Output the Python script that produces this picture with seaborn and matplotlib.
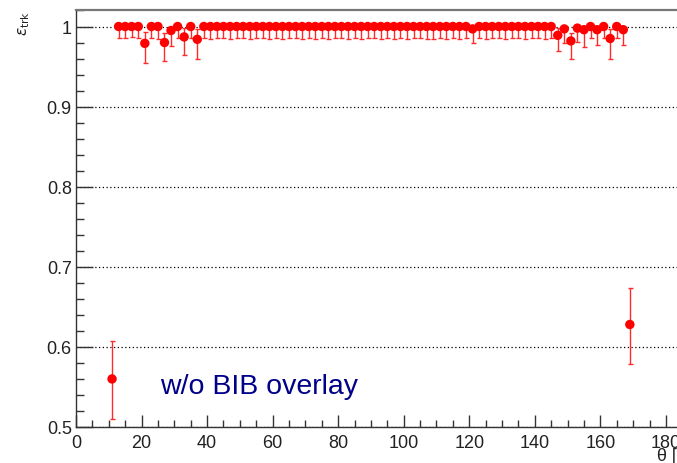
import numpy as np
import pandas as pd
import matplotlib
matplotlib.use("Agg")
import matplotlib.pyplot as plt
from matplotlib.ticker import MultipleLocator, FuncFormatter
import seaborn as sns

# polar angle bin centres [deg]
theta = [11, 13, 15, 17, 19, 21, 23, 25, 27, 29,
         31, 33, 35, 37, 39, 41, 43, 45, 47, 49,
         51, 53, 55, 57, 59, 61, 63, 65, 67, 69,
         71, 73, 75, 77, 79, 81, 83, 85, 87, 89,
         91, 93, 95, 97, 99, 101, 103, 105, 107, 109,
         111, 113, 115, 117, 119, 121, 123, 125, 127, 129,
         131, 133, 135, 137, 139, 141, 143, 145, 147, 149,
         151, 153, 155, 157, 159, 161, 163, 165, 167, 169]

# tracking efficiency
eff = [0.560, 1, 1, 1, 1, 0.979, 1, 1, 0.980, 0.995,
       1, 0.987, 1, 0.984, 1, 1, 1, 1, 1, 1,
       1, 1, 1, 1, 1, 1, 1, 1, 1, 1,
       1, 1, 1, 1, 1, 1, 1, 1, 1, 1,
       1, 1, 1, 1, 1, 1, 1, 1, 1, 1,
       1, 1, 1, 1, 1, 0.997, 1, 1, 1, 1,
       1, 1, 1, 1, 1, 1, 1, 1, 0.989, 0.997,
       0.982, 0.998, 0.996, 1, 0.996, 1, 0.985, 1, 0.996, 0.628]

# lower / upper edge of the error bars
eff_lo = [0.510, 0.986, 0.986, 0.987, 0.986, 0.955, 0.986, 0.985, 0.957, 0.976,
          0.986, 0.965, 0.986, 0.960, 0.986, 0.985, 0.986, 0.986, 0.985, 0.986,
          0.986, 0.985, 0.986, 0.986, 0.985, 0.986, 0.984, 0.986, 0.986, 0.985,
          0.986, 0.984, 0.986, 0.985, 0.986, 0.986, 0.985, 0.986, 0.984, 0.986,
          0.986, 0.985, 0.986, 0.984, 0.986, 0.985, 0.986, 0.986, 0.984, 0.985,
          0.986, 0.984, 0.986, 0.985, 0.986, 0.979, 0.986, 0.985, 0.986, 0.986,
          0.985, 0.986, 0.986, 0.985, 0.986, 0.986, 0.985, 0.986, 0.970, 0.980,
          0.960, 0.981, 0.975, 0.986, 0.977, 0.986, 0.959, 0.986, 0.977, 0.579]

eff_hi = [0.607, 1, 1, 1, 1, 0.993, 1, 1, 0.992, 1,
          1, 0.998, 1, 0.997, 1, 1, 1, 1, 1, 1,
          1, 1, 1, 1, 1, 1, 1, 1, 1, 1,
          1, 1, 1, 1, 1, 1, 1, 1, 1, 1,
          1, 1, 1, 1, 1, 1, 1, 1, 1, 1,
          1, 1, 1, 1, 1, 1, 1, 1, 1, 1,
          1, 1, 1, 1, 1, 1, 1, 1, 0.998, 1,
          0.992, 1, 1, 1, 1, 1, 0.997, 1, 1, 0.674]

df = pd.DataFrame({"theta": theta, "eff": eff, "lo": eff_lo, "hi": eff_hi})

sns.set_theme(style="ticks")
plt.rcParams["font.family"] = ["Liberation Sans", "DejaVu Sans"]

W, H = 677, 464
fig = plt.figure(figsize=(W / 100, H / 100), dpi=100)
# frame runs past the right edge of the picture, like the cropped original
ax = fig.add_axes([76 / W, 36 / H, 603 / W, 417 / H])

yerr = np.vstack([df["eff"] - df["lo"], df["hi"] - df["eff"]])
ax.errorbar(df["theta"], df["eff"], yerr=yerr, fmt="none", ecolor="#ff2a2a",
            elinewidth=1.0, capsize=1.8, capthick=1.0, zorder=2)
sns.scatterplot(data=df, x="theta", y="eff", ax=ax, color="red", s=46,
                edgecolor="none", linewidth=0, zorder=3, legend=False)

ax.set_xlim(0, 184)
ax.set_ylim(0.5, 1.0206)
ax.xaxis.set_major_locator(MultipleLocator(20))
ax.xaxis.set_minor_locator(MultipleLocator(5))
ax.yaxis.set_major_locator(MultipleLocator(0.1))
ax.yaxis.set_minor_locator(MultipleLocator(0.02))
ax.yaxis.set_major_formatter(FuncFormatter(lambda v, p: f"{v:g}"))
ax.set_xlabel("")
ax.set_ylabel("")

ax.tick_params(which="major", direction="in", length=10, width=1,
               color="#333333", labelsize=13, labelcolor="#222222")
ax.tick_params(which="minor", direction="in", length=5, width=1, color="#333333")
ax.tick_params(axis="x", which="major", length=9, pad=5)
ax.tick_params(axis="y", which="major", length=12, pad=3)
ax.tick_params(axis="y", which="minor", length=6)

ax.yaxis.grid(True, which="major", linestyle=(0, (1, 2)), color="black", lw=0.9)
ax.set_axisbelow(True)

for side in ["left", "bottom"]:
    ax.spines[side].set_color("#333333")
    ax.spines[side].set_linewidth(1.0)
ax.spines["top"].set_color("#777777")
ax.spines["top"].set_linewidth(1.6)
ax.spines["right"].set_visible(False)

fig.text(160 / W, (H - 394) / H, "w/o BIB overlay", fontsize=20.5,
         color="#000088", ha="left", va="baseline")
fig.text(24 / W, 1 - 11 / H, r"$\epsilon_{\mathrm{trk}}$", rotation=90,
         fontsize=11, ha="center", va="top", color="#222222")
fig.text(657 / W, (H - 461) / H, "θ [°]", fontsize=13, ha="left",
         va="baseline", color="#222222")

fig.savefig("out.png", dpi=100)
